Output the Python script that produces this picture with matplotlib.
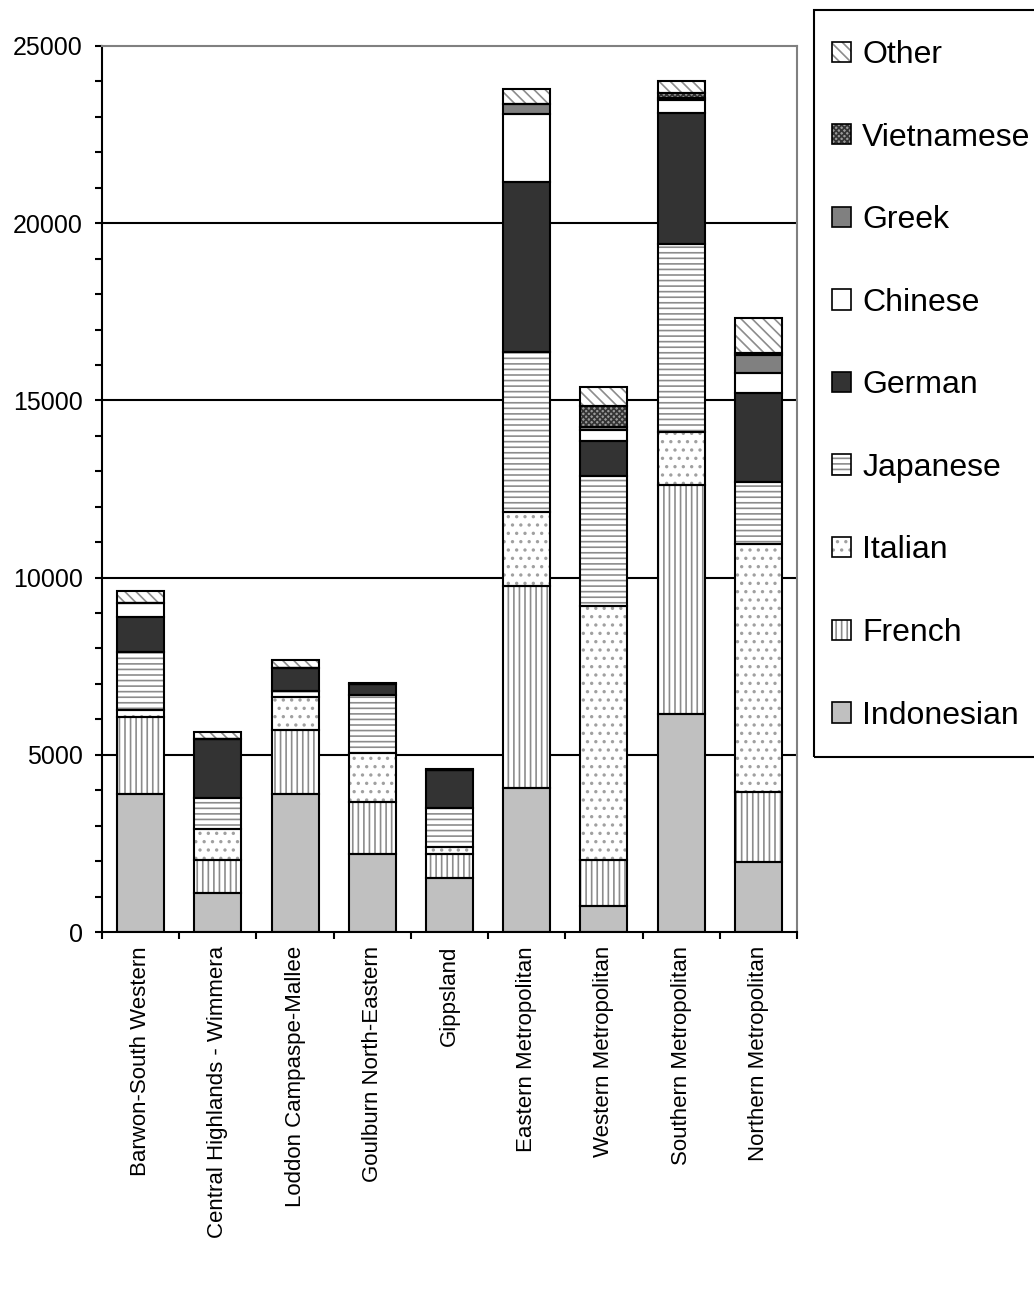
import matplotlib
matplotlib.use('Agg')
import matplotlib.pyplot as plt
from matplotlib.patches import Patch, Rectangle
from matplotlib.legend_handler import HandlerTuple
from matplotlib.ticker import MultipleLocator, FixedLocator
import numpy as np

plt.rcParams['font.family'] = ['Liberation Sans', 'DejaVu Sans']
plt.rcParams['hatch.linewidth'] = 1.2

regions = ['Barwon-South Western', 'Central Highlands - Wimmera', 'Loddon Campaspe-Mallee',
           'Goulburn North-Eastern', 'Gippsland', 'Eastern Metropolitan',
           'Western Metropolitan', 'Southern Metropolitan', 'Northern Metropolitan']

indonesian = [3890, 1090, 3890, 2200, 1515, 4050, 720, 6150, 1985]
french     = [2165, 940, 1810, 1475, 675, 5720, 1320, 6460, 1975]
italian    = [215, 885, 930, 1365, 200, 2090, 7170, 1500, 7000]
japanese   = [1620, 875, 180, 1645, 1100, 4500, 3650, 5290, 1740]
german     = [990, 1650, 650, 310, 1070, 4800, 1000, 3700, 2510]
chinese    = [390, 0, 0, 0, 0, 1925, 300, 380, 575]
greek      = [0, 0, 0, 0, 0, 280, 100, 60, 490]
vietnamese = [0, 0, 0, 0, 0, 0, 570, 120, 60]
other      = [360, 205, 215, 40, 50, 415, 540, 350, 980]

series_names = ['Indonesian', 'French', 'Italian', 'Japanese', 'German',
                'Chinese', 'Greek', 'Vietnamese', 'Other']
series_vals = [indonesian, french, italian, japanese, german,
               chinese, greek, vietnamese, other]

styles = {
    'Indonesian': dict(fc='#c0c0c0', hatch=None, hc='#c0c0c0'),
    'French': dict(fc='white', hatch='|||', hc='#8c8c8c'),
    'Italian': dict(fc='white', hatch='..', hc='#a0a0a0'),
    'Japanese': dict(fc='white', hatch='---', hc='#8c8c8c'),
    'German': dict(fc='#333333', hatch=None, hc='#333333'),
    'Chinese': dict(fc='white', hatch=None, hc='white'),
    'Greek': dict(fc='#808080', hatch=None, hc='#808080'),
    'Vietnamese': dict(fc='#999999', hatch='xxxxxx', hc='#333333'),
    'Other': dict(fc='white', hatch='\\\\\\', hc='#8c8c8c'),
}

fig = plt.figure(figsize=(10.34, 13.16), dpi=100)
ax = fig.add_axes([102/1034, 1-932/1316, (797-102)/1034, (932-46)/1316])

x = np.arange(len(regions))
bottom = np.zeros(len(regions))
width = 0.61
handles = []
for name, vals in zip(series_names, series_vals):
    v = np.array(vals, float)
    st = styles[name]
    ax.bar(x, v, width, bottom=bottom, color=st['fc'], edgecolor=st['hc'],
           hatch=st['hatch'], linewidth=0, zorder=2)
    ax.bar(x, v, width, bottom=bottom, fill=False, edgecolor='black',
           linewidth=1.5, zorder=3)
    handles.append((Patch(facecolor=st['fc'], edgecolor=st['hc'], hatch=st['hatch'], linewidth=0),
                    Patch(fill=False, edgecolor='black', linewidth=1.2)))
    bottom += v

ax.set_xlim(-0.5, len(regions) - 0.5)
ax.set_ylim(0, 25000)
ax.yaxis.set_major_locator(MultipleLocator(5000))
ax.yaxis.set_minor_locator(MultipleLocator(1000))
for yv in range(5000, 25000, 5000):
    ax.axhline(yv, color='black', lw=1.5, zorder=1)

ax.set_xticks(x)
ax.set_xticklabels(regions, rotation=90, fontsize=16)
ax.xaxis.set_minor_locator(FixedLocator(np.arange(-0.5, len(regions), 1.0)))
ax.tick_params(axis='x', which='major', length=0, pad=10)
ax.tick_params(axis='x', which='minor', length=5, width=1.5, direction='out')
ax.tick_params(axis='y', which='major', length=5, width=1.5, labelsize=18, pad=9)
ax.tick_params(axis='y', which='minor', length=5, width=1.5)

for s in ['top', 'right']:
    ax.spines[s].set_color('#808080')
    ax.spines[s].set_linewidth(1.5)
for s in ['left', 'bottom']:
    ax.spines[s].set_color('black')
    ax.spines[s].set_linewidth(1.5)

leg = fig.legend(handles[::-1], series_names[::-1],
                 handler_map={tuple: HandlerTuple(ndivide=1)},
                 loc='upper left', bbox_to_anchor=(832/1034, 1-40/1316),
                 bbox_transform=fig.transFigure, fontsize=23, frameon=False,
                 borderpad=0, labelspacing=1.646, handlelength=0.6,
                 handleheight=0.6, handletextpad=0.35, borderaxespad=0)

fig.add_artist(Rectangle((814/1034, 1-757/1316), (1045-814)/1034, (757-10)/1316,
                         transform=fig.transFigure, fill=False,
                         edgecolor='black', linewidth=1.5))

fig.savefig('out.png', dpi=100)
